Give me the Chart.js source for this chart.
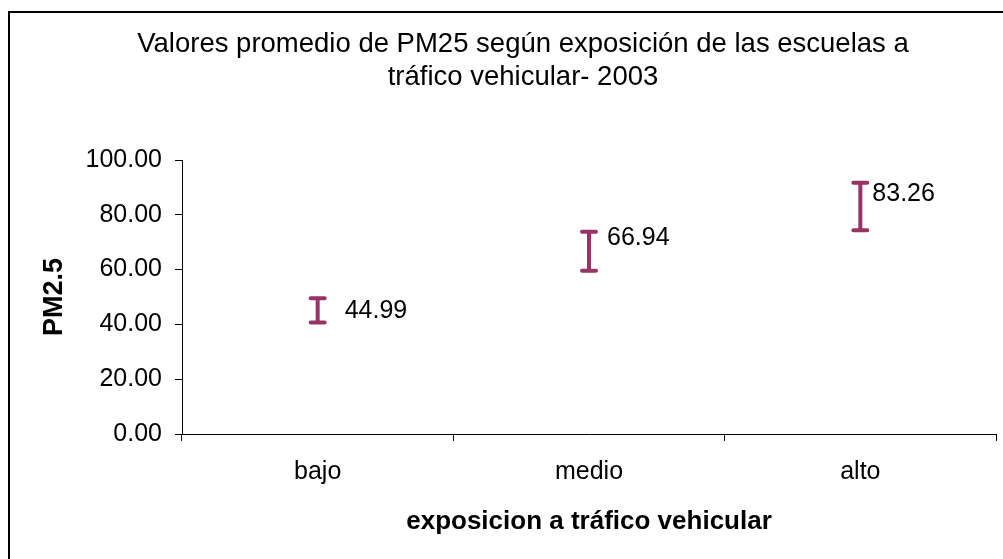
<!DOCTYPE html>
<html>
<head>
<meta charset="utf-8">
<script src="https://cdn.jsdelivr.net/npm/chart.js@4.4.0/dist/chart.umd.min.js"></script>
<style>
    html, body { margin: 0; padding: 0; background: #fff; }
    #wrap { width: 1003px; height: 559px; position: relative; }
</style>
</head>
<body>
<div id="wrap"><canvas id="chart" width="1003" height="559"></canvas></div>
<script>
// data
const categories = ['bajo', 'medio', 'alto'];
const means = [44.99, 66.94, 83.26];
const errUpper = [49.5, 73.8, 91.7];
const errLower = [40.7, 59.6, 74.4];
const yTicks = [0, 20, 40, 60, 80, 100];

const barColor = '#993366';
const font = 'Arial, "Liberation Sans", sans-serif';

// error bars + value labels
const errorBars = {
    id: 'errorBars',
    afterDatasetsDraw(chart) {
        const ctx = chart.ctx;
        const x = chart.scales.x, y = chart.scales.y;
        ctx.save();
        ctx.strokeStyle = barColor;
        ctx.lineCap = 'round';
        ctx.lineWidth = 4;
        categories.forEach((c, i) => {
            const px = x.getPixelForValue(i);
            const top = y.getPixelForValue(errUpper[i]);
            const bot = y.getPixelForValue(errLower[i]);
            ctx.beginPath();
            ctx.moveTo(px, top); ctx.lineTo(px, bot);
            ctx.moveTo(px - 7, top); ctx.lineTo(px + 7, top);
            ctx.moveTo(px - 7, bot); ctx.lineTo(px + 7, bot);
            ctx.stroke();
        });
        ctx.fillStyle = '#000';
        ctx.font = '25px ' + font;
        ctx.textBaseline = 'middle';
        const offs = [[27, 0], [18, -12], [12, -12]];
        means.forEach((m, i) => {
            const px = x.getPixelForValue(i);
            const py = y.getPixelForValue(m);
            ctx.fillText(m.toFixed(2), px + offs[i][0], py + offs[i][1]);
        });
        ctx.restore();
    },
    afterDraw(chart) {
        const ctx = chart.ctx;
        ctx.save();
        ctx.strokeStyle = '#000';
        ctx.lineWidth = 2;
        ctx.beginPath();
        ctx.moveTo(9, 559); ctx.lineTo(9, 12); ctx.lineTo(1003, 12);
        ctx.stroke();
        ctx.restore();
    }
};

new Chart(document.getElementById('chart'), {
    type: 'line',
    data: {
        labels: categories,
        datasets: [{
            data: means,
            showLine: false,
            pointRadius: 0,
            borderColor: barColor
        }]
    },
    options: {
        responsive: false,
        animation: false,
        layout: { padding: { left: 50, right: 7, top: 12, bottom: 10 } },
        plugins: {
            legend: { display: false },
            tooltip: { enabled: false },
            title: {
                display: true,
                text: ['Valores promedio de PM25 según exposición de las escuelas a', 'tráfico vehicular- 2003'],
                color: '#000',
                font: { family: font, size: 27.5, weight: 'normal', lineHeight: 1.2 },
                padding: { top: 16, bottom: 66 }
            }
        },
        scales: {
            x: {
                offset: true,
                afterFit: axis => { axis.height = 115; },
                grid: { offset: true, drawOnChartArea: false, tickLength: 7, color: '#000' },
                border: { color: '#000', width: 1 },
                ticks: { color: '#000', font: { family: font, size: 25 }, padding: 16 },
                title: {
                    display: true,
                    text: 'exposicion a tráfico vehicular',
                    color: '#000',
                    font: { family: font, size: 26, weight: 'bold' },
                    padding: { top: 0, bottom: 12 }
                }
            },
            y: {
                min: 0,
                max: 100,
                afterFit: axis => { axis.width = 132; },
                afterBuildTicks: axis => { axis.ticks = yTicks.map(v => ({ value: v })); },
                grid: { drawOnChartArea: false, tickLength: 7, color: '#000' },
                border: { color: '#000', width: 1 },
                ticks: {
                    color: '#000',
                    font: { family: font, size: 25 },
                    padding: 13,
                    callback: v => v.toFixed(2)
                },
                title: {
                    display: true,
                    text: 'PM2.5',
                    color: '#000',
                    font: { family: font, size: 27, weight: 'bold', lineHeight: 0.3 },
                    padding: { top: 0, bottom: 0 }
                }
            }
        }
    },
    plugins: [errorBars]
});
</script>
</body>
</html>
